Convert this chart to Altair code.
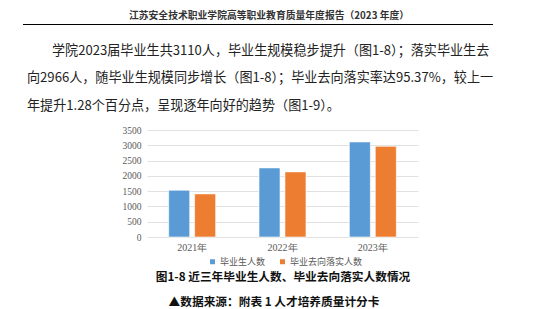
import altair as alt
import pandas as pd

years = ["2021年", "2022年", "2023年"]
series = ["毕业生人数", "毕业去向落实人数"]
graduates = [1530, 2260, 3110]
placed = [1410, 2130, 2966]
colors = ["#5B9BD5", "#ED7D31"]

header = "江苏安全技术职业学院高等职业教育质量年度报告（2023 年度）"
para = [
    "学院2023届毕业生共3110人，毕业生规模稳步提升（图1-8）；落实毕业生去",
    "向2966人，随毕业生规模同步增长（图1-8）；毕业去向落实率达95.37%，较上一",
    "年提升1.28个百分点，呈现逐年向好的趋势（图1-9）。",
]
caption = "图1-8 近三年毕业生人数、毕业去向落实人数情况"
source = "▲数据来源：附表 1 人才培养质量计分卡"

rows = []
for i, y in enumerate(years):
    rows.append({"year": y, "series": series[0], "value": graduates[i]})
    rows.append({"year": y, "series": series[1], "value": placed[i]})
df = pd.DataFrame(rows)

PL, PT = 147, 130
W, H = 271, 107
CJK = "Noto Sans CJK SC"
SERIF = "Liberation Serif"

bars = alt.Chart(df).mark_bar(stroke="white", strokeWidth=0.6).encode(
    x=alt.X("year:N", sort=years, title=None,
            scale=alt.Scale(paddingInner=0.48, paddingOuter=0.24),
            axis=alt.Axis(labelAngle=0, ticks=False, domain=False, grid=False,
                          labelFont=SERIF, labelFontSize=10, labelColor="#595959",
                          labelPadding=5)),
    xOffset=alt.XOffset("series:N", sort=series,
                        scale=alt.Scale(paddingInner=0.19, paddingOuter=0)),
    y=alt.Y("value:Q", title=None,
            scale=alt.Scale(domain=[0, 3500]),
            axis=alt.Axis(values=list(range(0, 3501, 500)), format="d",
                          ticks=False, domain=False,
                          gridColor="#D9D9D9", gridWidth=0.8,
                          labelFont=SERIF, labelFontSize=9.5, labelColor="#595959",
                          labelPadding=6)),
    color=alt.Color("series:N", sort=series,
                    scale=alt.Scale(domain=series, range=colors),
                    legend=alt.Legend(title=None, orient="none", direction="horizontal",
                                      legendX=61, legendY=127,
                                      symbolType="square", symbolSize=25,
                                      symbolStrokeWidth=0,
                                      labelFont=CJK, labelFontSize=9, labelColor="#595959",
                                      columnPadding=12, labelOffset=3)),
)

def txt(s, px, py, size, align="left", weight="normal", color="#222222", font=CJK):
    return alt.Chart(pd.DataFrame({"t": [s]})).mark_text(
        align=align, baseline="middle", fontSize=size, fontWeight=weight,
        color=color, font=font,
    ).encode(text="t:N", x=alt.value(px - PL), y=alt.value(py - PT))

layers = [bars]
layers.append(txt(header, 269, 16, 9.8, align="center", weight="bold", color="#333333"))
layers.append(alt.Chart(pd.DataFrame({"a": [0]})).mark_rule(color="#000000", strokeWidth=1).encode(
    x=alt.value(23 - PL), x2=alt.value(493 - PL), y=alt.value(24.5 - PT)))
layers.append(txt(para[0], 52, 51, 13.1))
layers.append(txt(para[1], 27, 78, 13.1))
layers.append(txt(para[2], 27, 106, 13.1))
layers.append(txt(caption, 283, 277, 11.7, align="center", weight="bold", color="#111111"))
layers.append(txt(source, 274, 302, 11.7, align="center", weight="bold", color="#111111"))

chart = alt.layer(*layers).properties(
    width=W, height=H,
    autosize=alt.AutoSizeParams(type="none"),
    padding={"left": PL, "top": PT, "right": 554 - PL - W, "bottom": 309 - PT - H},
    background="white",
).configure_view(stroke=None)

chart.save("out.html", embed_options={"renderer": "svg", "actions": False})
